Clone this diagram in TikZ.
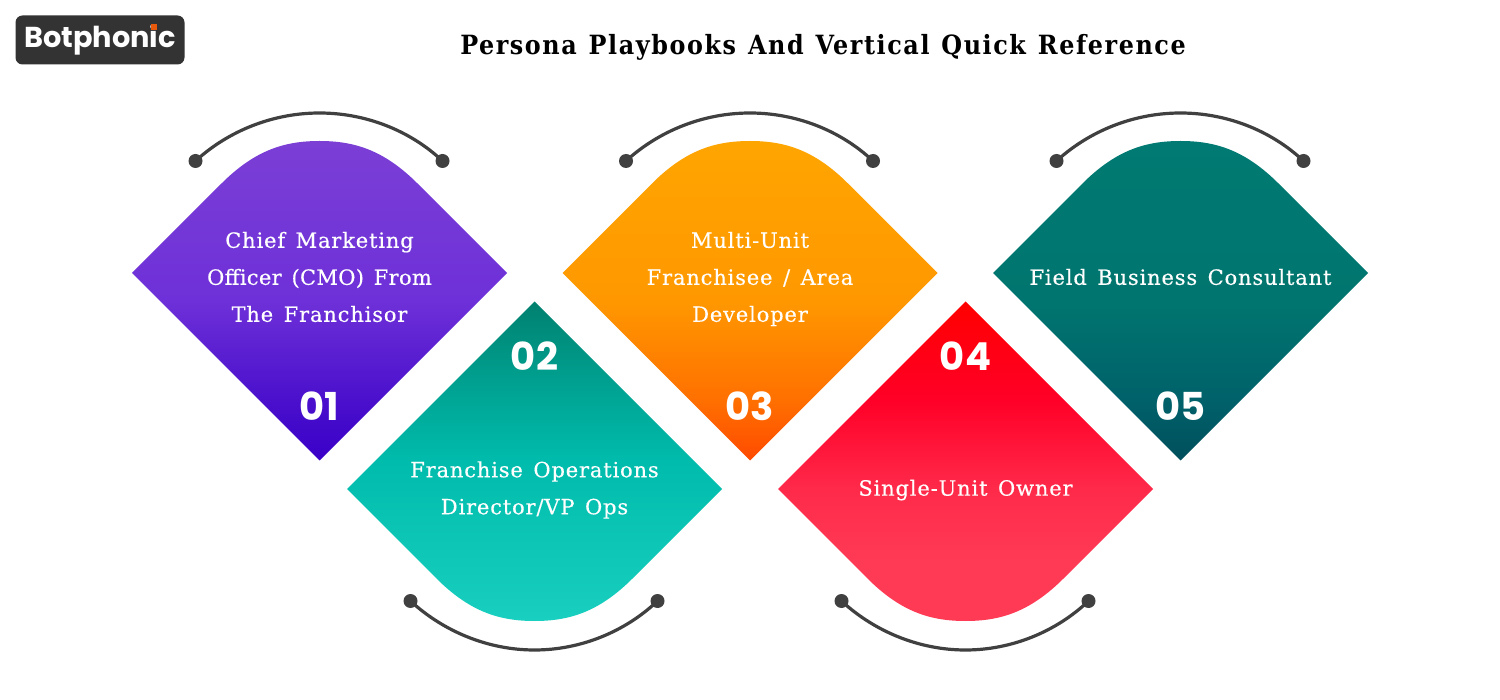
\documentclass[tikz,border=0pt]{standalone}
\usepackage{fontspec}
\setmainfont[LetterSpace=4,FakeBold=0.35,WordSpace=1.4]{DejaVu Serif}
\newfontfamily\tightbody[LetterSpace=1.5,FakeBold=0.35,WordSpace=1.4]{DejaVu Serif}
\newfontfamily\numfont{Poppins}[UprightFont=*-Bold]
\newfontfamily\logofont{Poppins}[UprightFont=*-Bold]
\newfontfamily\titlefont[LetterSpace=6,WordSpace=1.2]{DejaVu Serif Condensed}
\definecolor{arcgrey}{HTML}{404040}
\definecolor{logobg}{HTML}{333333}
\definecolor{logodot}{HTML}{E8590C}
\definecolor{a1}{HTML}{7B3FD6}\definecolor{a2}{HTML}{6E30D8}\definecolor{a3}{HTML}{4A10CC}\definecolor{a4}{HTML}{3A00C8}
\definecolor{b1}{HTML}{00806F}\definecolor{b2}{HTML}{00A090}\definecolor{b3}{HTML}{00BCAC}\definecolor{b4}{HTML}{19CFBF}
\definecolor{c1}{HTML}{FFA500}\definecolor{c2}{HTML}{FF9800}\definecolor{c3}{HTML}{FF7000}\definecolor{c4}{HTML}{FF4A00}
\definecolor{d1}{HTML}{FF0000}\definecolor{d2}{HTML}{FF0028}\definecolor{d3}{HTML}{FF2A4A}\definecolor{d4}{HTML}{FF3A55}
\definecolor{e1}{HTML}{007A72}\definecolor{e2}{HTML}{00756F}\definecolor{e3}{HTML}{00616A}\definecolor{e4}{HTML}{004F5C}
\pgfdeclareverticalshading{shadea}{100bp}{color(0bp)=(a4);color(25bp)=(a4);color(34.5bp)=(a3);color(50bp)=(a2);color(75bp)=(a1);color(100bp)=(a1)}
\pgfdeclareverticalshading{shadec}{100bp}{color(0bp)=(c4);color(25bp)=(c4);color(34.5bp)=(c3);color(50bp)=(c2);color(75bp)=(c1);color(100bp)=(c1)}
\pgfdeclareverticalshading{shadee}{100bp}{color(0bp)=(e4);color(25bp)=(e4);color(34.5bp)=(e3);color(50bp)=(e2);color(75bp)=(e1);color(100bp)=(e1)}
\pgfdeclareverticalshading{shadeb}{100bp}{color(0bp)=(b4);color(25bp)=(b4);color(50bp)=(b3);color(62.6bp)=(b2);color(75bp)=(b1);color(100bp)=(b1)}
\pgfdeclareverticalshading{shaded}{100bp}{color(0bp)=(d4);color(34.5bp)=(d4);color(45.5bp)=(d3);color(59.5bp)=(d2);color(75bp)=(d1);color(100bp)=(d1)}
\tikzset{
  arcline/.style={draw=arcgrey,line width=3.2pt},
  arcdot/.style={circle,fill=arcgrey,inner sep=0pt,minimum size=14pt},
  bodytext/.style={text=white,align=center,inner sep=0pt,font=\fontsize{21}{37}\selectfont},
  numtext/.style={text=white,inner sep=0pt,font=\numfont\fontsize{38.5}{38.5}\selectfont},
}
% #1 id, #2 cx, #3 shading, #4 number y, #5 number, #6 text, #7 text y
\newcommand{\topshape}[7]{
  \begin{scope}[shift={(#2,0)}]
    \shade[shading=#3]
      (-187.5,273) -- (-98,183.5) .. controls (-64,149.5) and (-34,141) .. (0,141)
      .. controls (34,141) and (64,149.5) .. (98,183.5) -- (187.5,273) -- (0,460.5) -- cycle;
    \node[arcdot] (#1a) at (-124,161) {};
    \node[arcdot] (#1b) at (123,161) {};
    \draw[arcline] (#1a.center) .. controls (-90.3,130.2) and (-45.7,113) .. (0,113)
      .. controls (45.7,113) and (90.3,130.2) .. (#1b.center);
    \node[numtext] (#1n) at (0,#4) {#5};
    \node[bodytext] (#1t) at (0,#7) {#6};
  \end{scope}
}
\newcommand{\botshape}[7]{
  \begin{scope}[shift={(#2,0)}]
    \shade[shading=#3]
      (-187.5,489) -- (-98,578.5) .. controls (-64,612.5) and (-34,621) .. (0,621)
      .. controls (34,621) and (64,612.5) .. (98,578.5) -- (187.5,489) -- (0,301.5) -- cycle;
    \node[arcdot] (#1a) at (-124,601) {};
    \node[arcdot] (#1b) at (123,601) {};
    \draw[arcline] (#1a.center) .. controls (-90.3,632) and (-45.7,650) .. (0,650)
      .. controls (45.7,650) and (90.3,632) .. (#1b.center);
    \node[numtext] (#1n) at (0,#4) {#5};
    \node[bodytext] (#1t) at (0,#7) {#6};
  \end{scope}
}
\begin{document}
\begin{tikzpicture}[x=1pt,y=-1pt]
\useasboundingbox (0,0) rectangle (1500,700);
\fill[white] (0,0) rectangle (1500,700);
\node[fill=logobg,rounded corners=7pt,minimum width=169pt,minimum height=49pt,inner sep=0pt,
      text=white,font=\logofont\fontsize{28.8}{28.8}\selectfont] (logo) at (100,40) {Botphonic};
\fill[logodot] (151.3,24.5) rectangle (157,30);
\node[text=black,inner sep=0pt,font=\titlefont\bfseries\fontsize{26.5}{26.5}\selectfont] (title) at (823,47) {Persona Playbooks And Vertical Quick Reference};
\topshape{s1}{319.5}{shadea}{406}{01}{Chief Marketing\\{\tightbody Officer (CMO) From}\\The Franchisor}{277}
\botshape{s2}{534.5}{shadeb}{356}{02}{Franchise Operations\\Director/VP Ops}{490}
\topshape{s3}{750}{shadec}{406}{03}{Multi-Unit\\Franchisee / Area\\Developer}{279}
\botshape{s4}{965.5}{shaded}{356}{04}{Single-Unit Owner}{490}
\topshape{s5}{1180.5}{shadee}{406}{05}{Field Business Consultant}{277}
\end{tikzpicture}
\end{document}
